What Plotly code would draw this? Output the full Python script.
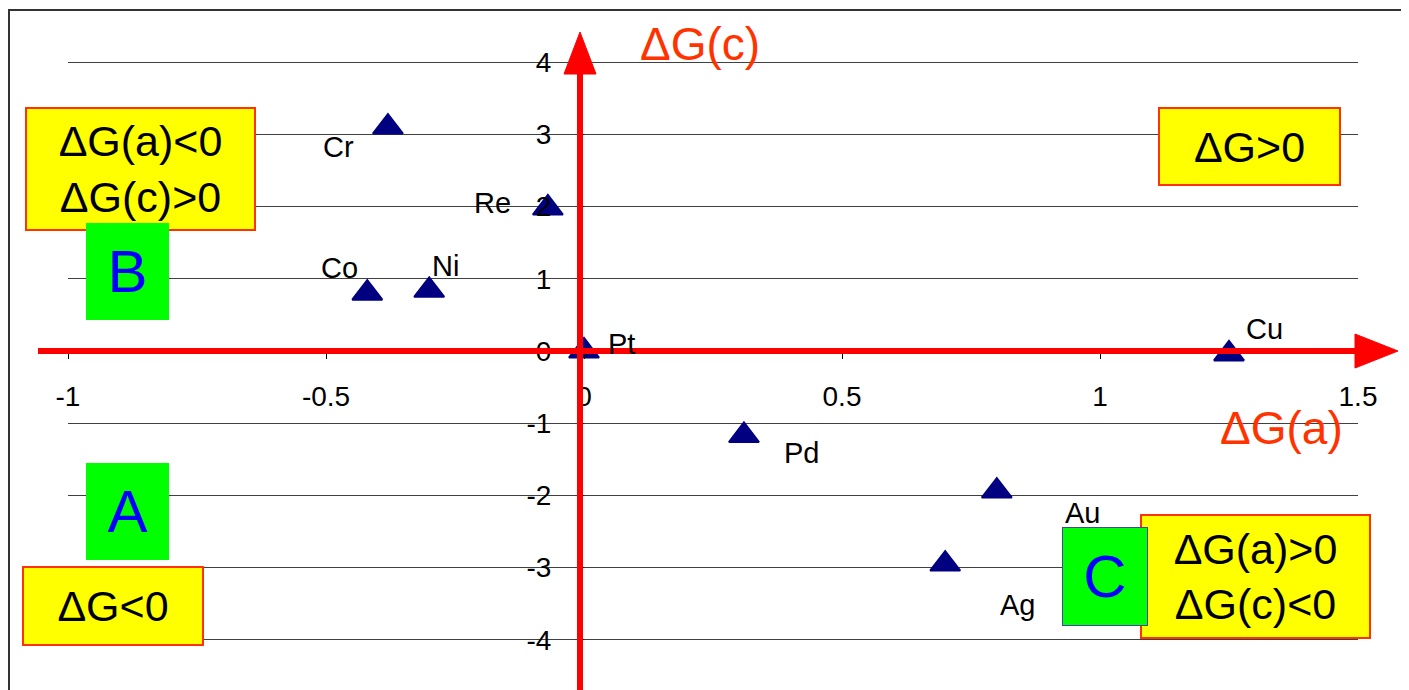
import plotly.graph_objects as go

# ---- data ----
elements = ["Cr", "Re", "Co", "Ni", "Pt", "Cu", "Pd", "Au", "Ag"]
dG_a = [-0.38, -0.07, -0.42, -0.30, 0.0, 1.25, 0.31, 0.80, 0.70]
dG_c = [3.10, 1.98, 0.80, 0.84, 0.0, -0.04, -1.17, -1.94, -2.95]

x_tickvals = [-1, -0.5, 0, 0.5, 1, 1.5]
x_ticktext = ["-1", "-0.5", "0", "0.5", "1", "1.5"]
y_tickvals = [-4, -3, -2, -1, 0, 1, 2, 3, 4]
y_ticktext = ["-4", "-3", "-2", "-1", "0", "1", "2", "3", "4"]

# label offsets (px) relative to markers: (dx, dy up)
label_offsets = [(-49, -20), (-55, 5), (-28, 25), (16, 24), (37, 7),
                 (35, 25), (58, -17), (86, -22), (72, -41)]

# ---- layout geometry (page pixels; page body has an 8px margin) ----
OFF = 8
W, H = 1409 - OFF, 690 - OFF
L, R, T, B = 68, 1358, 26, 676  # plot area in page pixels

def px(x):
    return (x - L) / (R - L)

def py(y):
    return (B - y) / (B - T)

FONT = "Liberation Sans, Arial, sans-serif"
RED = "#FF0000"
ORANGE = "#FF3300"
YELLOW = "#FFFF00"
GREEN = "#00FF00"
BLUE = "#0000FF"

fig = go.Figure()
fig.add_trace(go.Scatter(
    x=dG_a, y=dG_c, mode="markers",
    marker=dict(symbol="triangle-up", size=26, color="#000080",
                line=dict(color="#000080", width=2)),
    showlegend=False, hoverinfo="skip"))

annotations = []
for name, xv, yv, (dx, dy) in zip(elements, dG_a, dG_c, label_offsets):
    annotations.append(dict(x=xv, y=yv, xref="x", yref="y", text=name,
                            showarrow=False, xshift=dx, yshift=dy,
                            font=dict(family=FONT, size=29, color="black")))

def box(text, x0, y0, x1, y1, bg, border, fcolor, fsize, bw=2):
    return dict(x=px((x0 + x1) / 2), y=py((y0 + y1) / 2), xref="paper", yref="paper",
                xanchor="center", yanchor="middle", text=text, showarrow=False,
                width=(x1 - x0) - 2 * bw, height=(y1 - y0) - 2 * bw,
                bgcolor=bg, bordercolor=border, borderwidth=bw, borderpad=0,
                align="center", valign="middle",
                font=dict(family=FONT, size=fsize, color=fcolor))

annotations += [
    box("ΔG(a)<0<br>ΔG(c)>0", 25, 107, 256, 231, YELLOW, ORANGE, "black", 43),
    box("B", 86, 223, 169, 320, GREEN, GREEN, BLUE, 60, bw=1),
    box("A", 86, 463, 169, 560, GREEN, GREEN, BLUE, 60, bw=1),
    box("ΔG<0", 22, 566, 204, 646, YELLOW, ORANGE, "black", 43),
    box("ΔG>0", 1158, 107, 1341, 186, YELLOW, ORANGE, "black", 43),
    box("ΔG(a)>0<br>ΔG(c)<0", 1140, 514, 1371, 639, YELLOW, ORANGE, "black", 43),
    box("C", 1062, 527, 1148, 626, GREEN, "#4444AA", BLUE, 60, bw=1),
    dict(x=px(700), y=py(44), xref="paper", yref="paper", text="ΔG(c)",
         showarrow=False, xanchor="center", yanchor="middle",
         font=dict(family=FONT, size=46, color=ORANGE)),
    dict(x=px(1281), y=py(428), xref="paper", yref="paper", text="ΔG(a)",
         showarrow=False, xanchor="center", yanchor="middle",
         font=dict(family=FONT, size=46, color=ORANGE)),
]

shapes = [
    # outer chart border
    dict(type="rect", xref="paper", yref="paper", x0=px(9), x1=px(1420),
         y0=py(10), y1=py(700), line=dict(color="#333333", width=2), layer="above"),
    # horizontal red axis arrow
    dict(type="line", xref="paper", yref="paper", x0=px(38), x1=px(1362),
         y0=py(351), y1=py(351), line=dict(color=RED, width=6), layer="above"),
    dict(type="path", xref="paper", yref="paper",
         path=f"M{px(1398)},{py(351)} L{px(1355)},{py(334)} L{px(1355)},{py(368)} Z",
         fillcolor=RED, line=dict(color=RED, width=1), layer="above"),
    # vertical red axis arrow
    dict(type="line", xref="paper", yref="paper", x0=px(580), x1=px(580),
         y0=py(692), y1=py(68), line=dict(color=RED, width=6), layer="above"),
    dict(type="path", xref="paper", yref="paper",
         path=f"M{px(580)},{py(32)} L{px(564)},{py(74)} L{px(596)},{py(74)} Z",
         fillcolor=RED, line=dict(color=RED, width=1), layer="above"),
]

fig.update_layout(
    width=W, height=H,
    margin=dict(l=L - OFF, r=1409 - R, t=T - OFF, b=690 - B),
    paper_bgcolor="white", plot_bgcolor="white",
    showlegend=False,
    annotations=annotations, shapes=shapes,
    xaxis=dict(range=[-1, 1.5], tickvals=x_tickvals, ticktext=x_ticktext,
               showgrid=False, zeroline=False, showline=False,
               ticks="outside", ticklen=7, tickcolor="black",
               anchor="free", position=0.5, ticklabelstandoff=13,
               tickfont=dict(family=FONT, size=28, color="black")),
    yaxis=dict(range=[-4.5, 4.5], tickvals=y_tickvals, ticktext=y_ticktext,
               showgrid=True, gridcolor="#404040", gridwidth=1, zeroline=False,
               showline=False,
               ticks="outside", ticklen=7, tickcolor="black",
               anchor="free", position=px(584), ticklabelstandoff=20,
               tickfont=dict(family=FONT, size=28, color="black")),
)

fig.write_html("out.html")
